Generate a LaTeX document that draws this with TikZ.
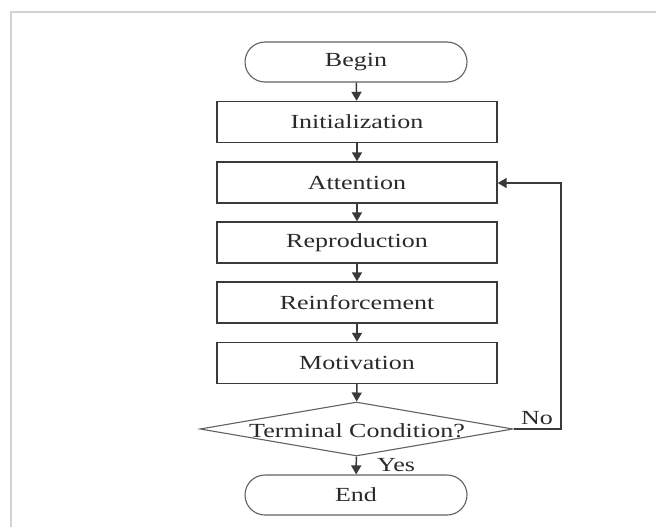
\documentclass[tikz,border=0pt]{standalone}
\usepackage{fontspec}
\setmainfont{Liberation Serif}[FakeStretch=1.3]
\usetikzlibrary{shapes.geometric,arrows.meta}
\definecolor{ink}{HTML}{3A3A3A}
\definecolor{txt}{HTML}{2A2A2A}
\definecolor{frameg}{HTML}{D2D2D2}
\tikzset{
  x=1pt,y=-1pt,
  every node/.style={font=\fontsize{20}{23}\selectfont, text=txt},
  procbox/.style={draw=ink, line width=1.4pt, rectangle, minimum width=280pt, minimum height=41pt, inner sep=0pt},
  termbox/.style={draw=ink!80, line width=1.1pt, rectangle, rounded corners=20pt, minimum width=222pt, minimum height=40pt, inner sep=0pt},
  decision/.style={draw=ink!80, line width=1.1pt, diamond, minimum width=313pt, minimum height=54pt, inner sep=0pt},
  flow/.style={draw=ink, line width=1.5pt, -{Triangle[length=9pt,width=10pt]}},
}
\begin{document}
\begin{tikzpicture}
\useasboundingbox (0,0) rectangle (656,527);
\draw[frameg, line width=1.2pt] (11,527) -- (11,12) -- (656,12);

\node[termbox] (begin) at (356,62) {Begin};
\node[procbox] (init) at (357,122) {Initialization};
\node[procbox] (attn) at (357,182.5) {Attention};
\node[procbox] (repro) at (357,242.5) {Reproduction};
\node[procbox] (reinf) at (357,302.5) {Reinforcement};
\node[procbox] (motiv) at (357,363) {Motivation};
\node[decision] (cond) at (356.5,429) {};
\node[inner sep=0pt] (condtext) at (357,431) {Terminal Condition?};
\node[termbox] (end) at (356,495) {End};

\draw[flow] (begin) -- (init);
\draw[flow] (init) -- (attn);
\draw[flow] (attn) -- (repro);
\draw[flow] (repro) -- (reinf);
\draw[flow] (reinf) -- (motiv);
\draw[flow] (motiv) -- (cond);
\draw[flow] (cond) -- (end);

\coordinate (loopb) at (561,429);
\coordinate (loopt) at (561,183);
\draw[flow] (cond.east) -- (loopb) -- (loopt) -- (attn.east |- loopt);

\node[inner sep=0pt] (no) at (537,418) {No};
\node[inner sep=0pt] (yes) at (396,465) {Yes};
\end{tikzpicture}
\end{document}
